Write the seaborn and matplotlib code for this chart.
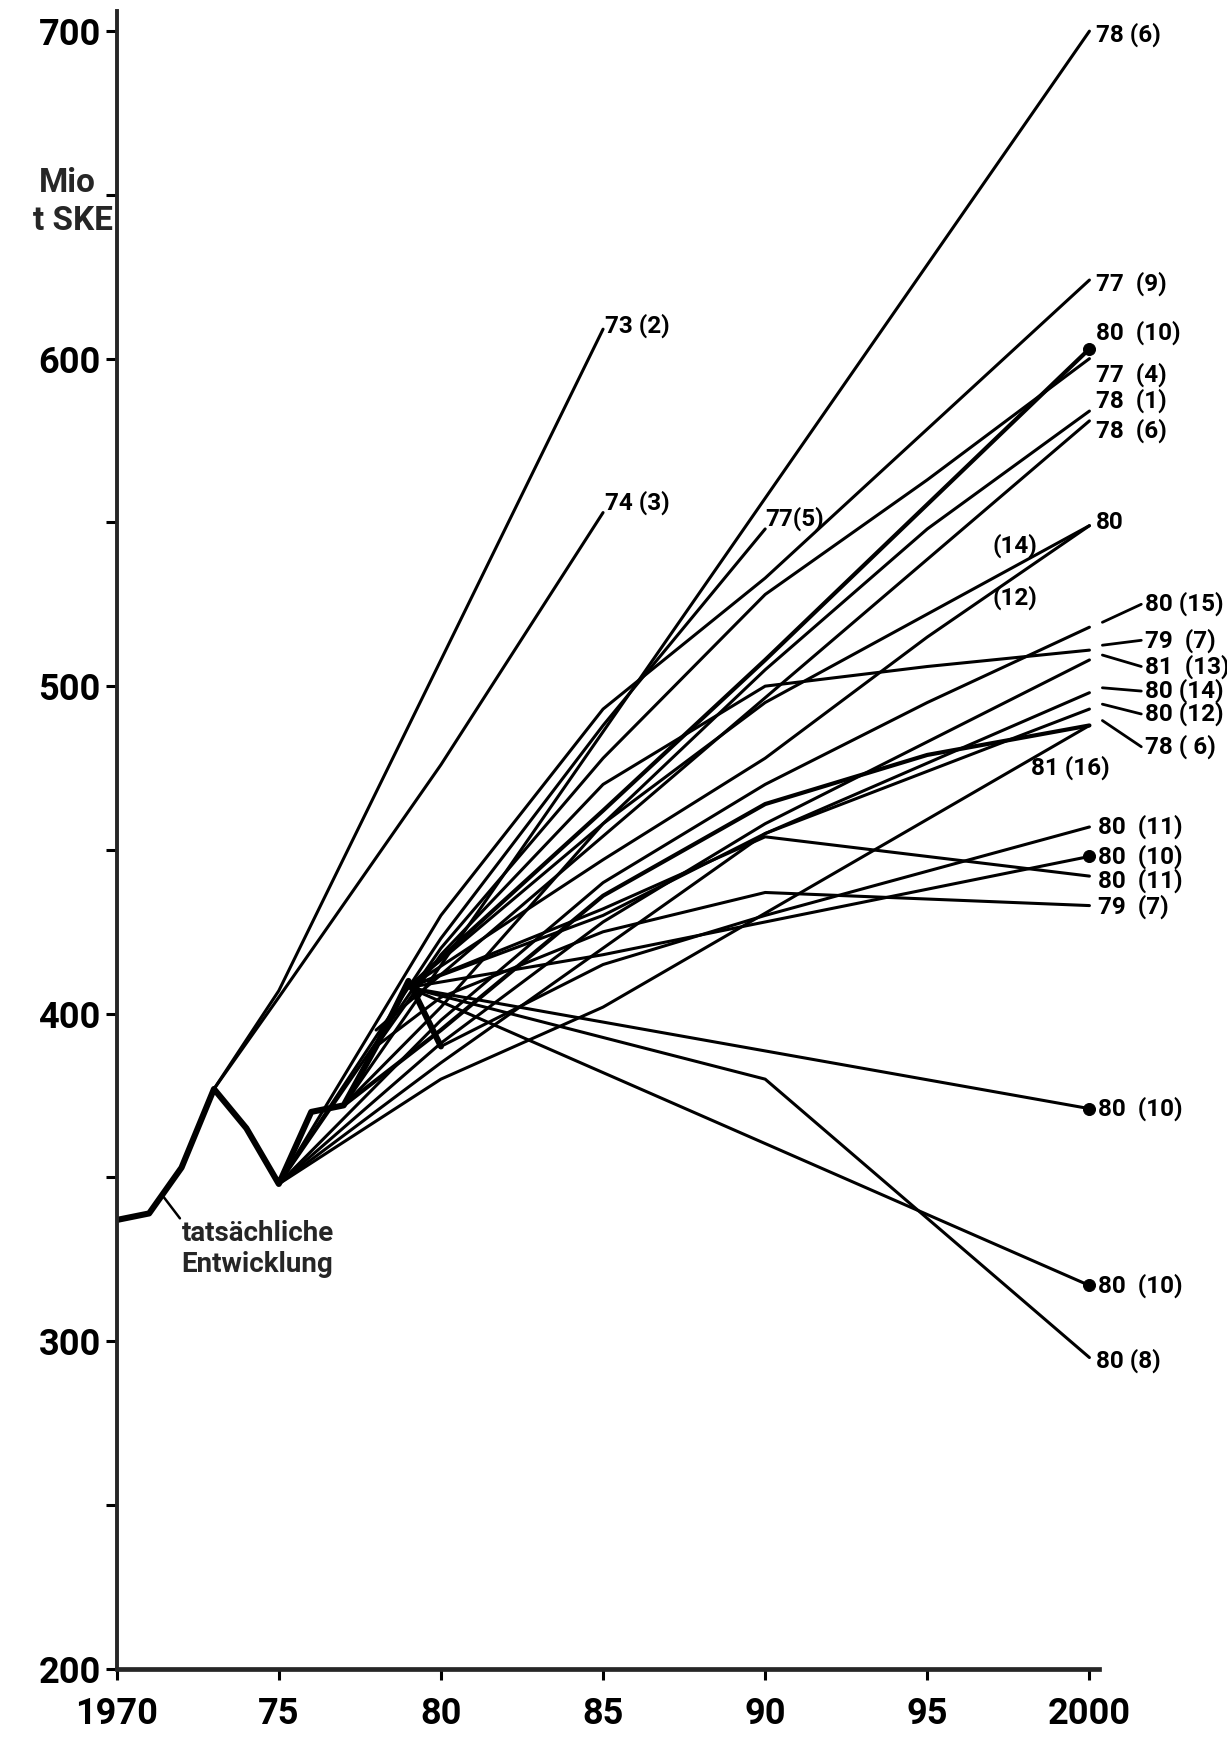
import matplotlib
matplotlib.use("Agg")
import matplotlib.pyplot as plt
import seaborn as sns
import pandas as pd

# tatsächliche Entwicklung (Mio t SKE)
actual_years = [1970, 1971, 1972, 1973, 1974, 1975, 1976, 1977, 1978, 1979, 1980]
actual_values = [337, 339, 353, 377, 365, 348, 370, 372, 390, 410, 390]

# forecasts, (year, value)
f73_2 = [(1973, 377), (1975, 407), (1985, 609)]
f74_3 = [(1973, 377), (1975, 405), (1980, 476), (1985, 553)]
f78_6a = [(1977, 372), (2000, 700)]
f77_5 = [(1975, 348), (1980, 423), (1985, 488), (1990, 548)]
f77_9 = [(1975, 348), (1980, 430), (1985, 493), (1990, 533), (2000, 624)]
f77_4 = [(1975, 348), (1980, 420), (1985, 478), (1990, 528), (1995, 563), (2000, 600)]
f80_10a = [(1979, 408), (1985, 462), (1990, 508), (2000, 603)]
f78_1 = [(1977, 372), (1980, 402), (1985, 458), (1990, 505), (1995, 548), (2000, 584)]
f78_6b = [(1978, 395), (2000, 581)]
f80_14a = [(1979, 408), (1985, 458), (1990, 495), (2000, 549)]
f80_12a = [(1979, 408), (1985, 447), (1990, 478), (1995, 515), (2000, 549)]
f80_15 = [(1975, 348), (1980, 398), (1985, 440), (1990, 470), (1995, 495), (2000, 518)]
f79_7a = [(1978, 390), (1980, 418), (1985, 470), (1990, 500), (1995, 506), (2000, 511)]
f81_13 = [(1975, 348), (1980, 391), (1985, 428), (1990, 458), (2000, 508)]
f80_14b = [(1975, 348), (1980, 385), (1985, 420), (1990, 455), (2000, 498)]
f80_12b = [(1979, 408), (1985, 430), (1990, 455), (2000, 493)]
f78_6c = [(1977, 372), (1980, 395), (1985, 436), (1990, 464), (1995, 479), (2000, 488)]
f81_16 = [(1975, 348), (1980, 380), (1985, 402), (2000, 488)]
f80_11a = [(1980, 390), (1985, 415), (1990, 430), (2000, 457)]
f80_10b = [(1979, 408), (1985, 418), (1990, 428), (2000, 448)]
f80_11b = [(1979, 408), (1985, 432), (1990, 454), (2000, 442)]
f79_7b = [(1978, 390), (1980, 405), (1985, 425), (1990, 437), (2000, 433)]
f80_10c = [(1979, 408), (2000, 371)]
f80_10d = [(1979, 408), (2000, 317)]
f80_8 = [(1979, 408), (1990, 380), (2000, 295)]

thin_lines = [f73_2, f74_3, f78_6a, f77_5, f77_9, f77_4, f78_1, f78_6b,
              f80_14a, f80_12a, f80_15, f79_7a, f81_13, f80_14b, f80_12b,
              f81_16, f80_11a, f80_10b, f80_11b, f79_7b, f80_10c, f80_10d, f80_8]
bold_lines = [f80_10a, f78_6c]
dot_lines = [f80_10a, f80_10b, f80_10c, f80_10d]

# end labels: text, x (year), y (value)
end_labels = [
    ("73 (2)", 1985.05, 610), ("74 (3)", 1985.05, 556), ("77(5)", 1990.0, 551),
    ("78 (6)", 2000.2, 699), ("77  (9)", 2000.2, 623), ("80  (10)", 2000.2, 608),
    ("77  (4)", 2000.2, 595), ("78  (1)", 2000.2, 587), ("78  (6)", 2000.2, 578),
    ("80", 2000.2, 550),
    ("80  (11)", 2000.25, 457), ("80  (10)", 2000.25, 448), ("80  (11)", 2000.25, 440.5),
    ("79  (7)", 2000.25, 432.5), ("80  (10)", 2000.25, 371), ("80  (10)", 2000.25, 317),
    ("80 (8)", 2000.2, 294),
]
# labels set off with a short leader line: text, line end value, label value
leader_labels = [
    ("80 (15)", 518, 525), ("79  (7)", 511, 514), ("81  (13)", 508, 506),
    ("80 (14)", 498, 498.5), ("80 (12)", 493, 491.5), ("78 ( 6)", 488, 481.5),
]
mid_labels = [("(14)", 1997.0, 543), ("(12)", 1997.0, 527), ("81 (16)", 1998.2, 475)]

year_ticks = [1970, 1975, 1980, 1985, 1990, 1995, 2000]
year_labels = ["1970", "75", "80", "85", "90", "95", "2000"]
value_ticks = [200, 300, 400, 500, 600, 700]


def long_form(lines):
    rows = []
    for i, pts in enumerate(lines):
        for yr, val in pts:
            rows.append({"line": i, "year": yr, "value": val})
    return pd.DataFrame(rows)


sns.set_style("ticks")
plt.rcParams["font.family"] = ["Roboto", "DejaVu Sans"]

fig = plt.figure(figsize=(12.27, 17.42), dpi=100)
ax = fig.add_axes([0.0951, 0.0421, 0.8007, 0.9513])

sns.lineplot(data=long_form(thin_lines), x="year", y="value", units="line",
             estimator=None, sort=False, color="black", lw=2.2, ax=ax)
sns.lineplot(data=long_form(bold_lines), x="year", y="value", units="line",
             estimator=None, sort=False, color="black", lw=3.0, ax=ax)
actual = pd.DataFrame({"year": actual_years, "value": actual_values})
sns.lineplot(data=actual, x="year", y="value", color="black", lw=4.4, ax=ax)

dots = pd.DataFrame({"year": [p[-1][0] for p in dot_lines],
                     "value": [p[-1][1] for p in dot_lines]})
sns.scatterplot(data=dots, x="year", y="value", color="black", s=75,
                edgecolor="black", zorder=5, clip_on=False, ax=ax)

txt = dict(fontsize=17.5, fontweight="bold", va="center", ha="left", color="black")
for s, x, y in end_labels:
    ax.text(x, y, s, **txt)
for s, yend, ylab in leader_labels:
    ax.plot([2000.4, 2001.6], [yend + 1.5, ylab], color="black", lw=2.0, clip_on=False)
    ax.text(2001.7, ylab, s, **txt)
for s, x, y in mid_labels:
    ax.text(x, y, s, **txt)

# tatsächliche Entwicklung
ax.plot([1971.45, 1971.95], [344, 337.5], color="black", lw=1.8)
ax.text(1972.0, 337.0, "tatsächliche\nEntwicklung", fontsize=20, fontweight="bold",
        ha="left", va="top", linespacing=1.2)

fig.text(0.032, 0.895, "Mio", fontsize=24, fontweight="bold", ha="left", va="center")
fig.text(0.027, 0.873, "t SKE", fontsize=24, fontweight="bold", ha="left", va="center")

ax.set_xlim(1970, 2000.3)
ax.set_ylim(200, 706)
ax.set_xticks(year_ticks)
ax.set_xticklabels(year_labels)
ax.set_yticks(value_ticks)
ax.set_yticks([250, 350, 450, 550, 650], minor=True)
ax.tick_params(axis="both", which="both", direction="out", length=8, width=2.2,
               labelsize=26, colors="black")
ax.tick_params(axis="x", pad=12)
for t in ax.get_xticklabels() + ax.get_yticklabels():
    t.set_fontweight("bold")
ax.set_xlabel("")
ax.set_ylabel("")
sns.despine(ax=ax)
ax.spines["left"].set_linewidth(2.8)
ax.spines["bottom"].set_linewidth(3.4)

fig.savefig("out.png", dpi=100, facecolor="white")
